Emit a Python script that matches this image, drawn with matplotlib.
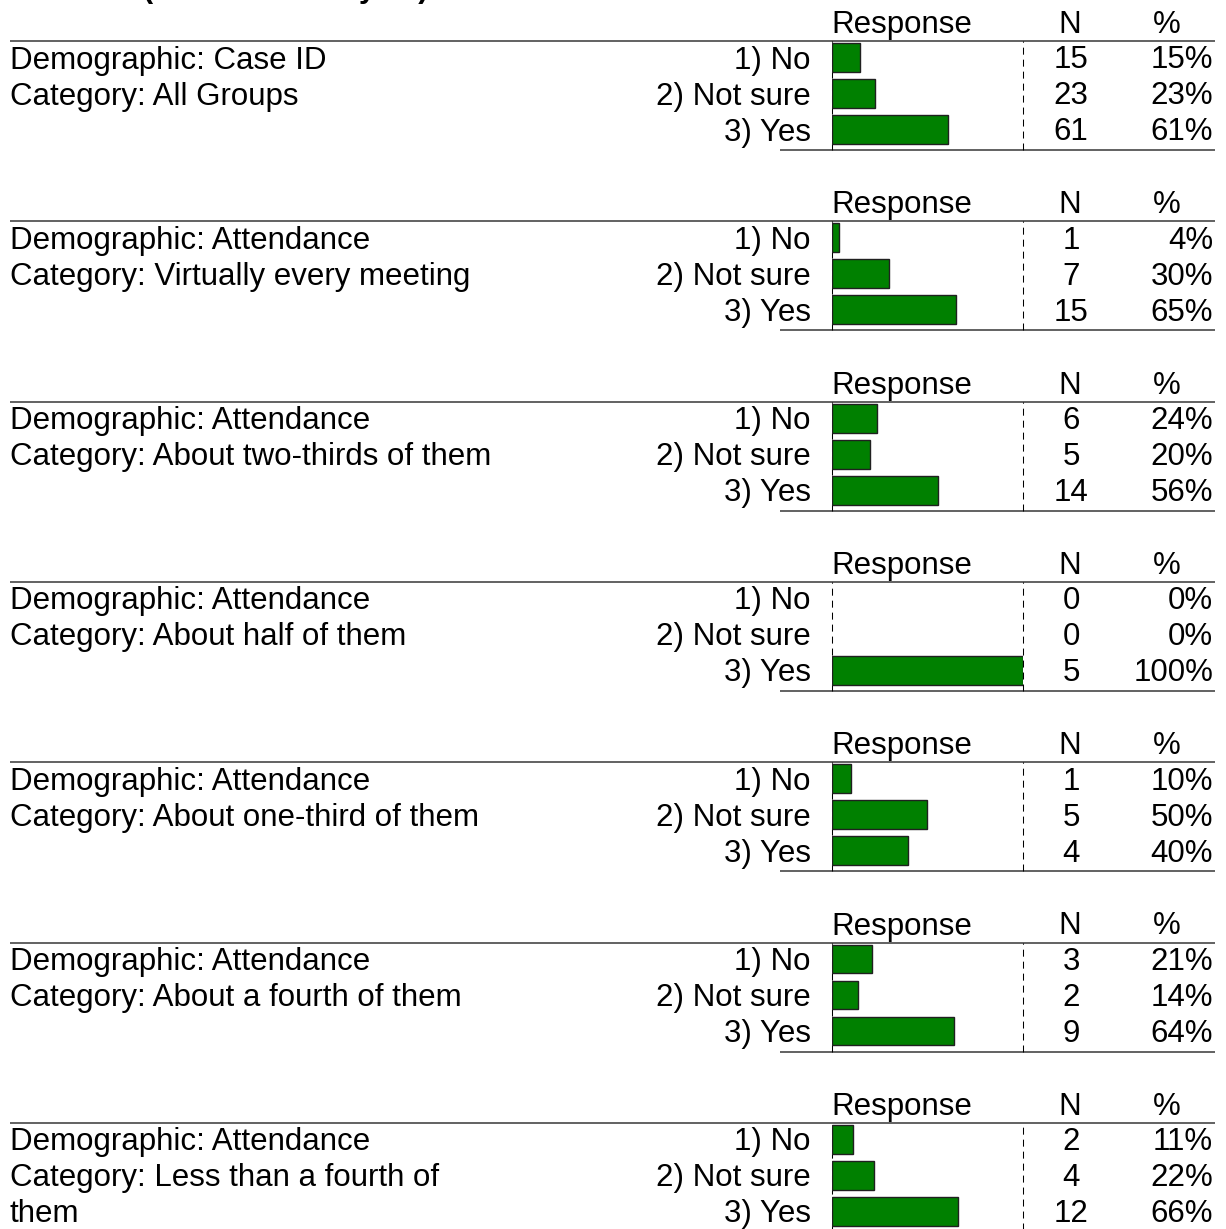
import textwrap
import matplotlib
matplotlib.use("Agg")
import matplotlib.pyplot as plt

# ---- data -------------------------------------------------------------
title = "(Crosstab Analysis)"
demographics = ["Case ID", "Attendance", "Attendance", "Attendance",
                "Attendance", "Attendance", "Attendance"]
categories = ["All Groups", "Virtually every meeting", "About two-thirds of them",
              "About half of them", "About one-third of them",
              "About a fourth of them", "Less than a fourth of them"]
responses = ["1) No", "2) Not sure", "3) Yes"]
counts = [[15, 23, 61], [1, 7, 15], [6, 5, 14], [0, 0, 5],
          [1, 5, 4], [3, 2, 9], [2, 4, 12]]
percents = [[15, 23, 61], [4, 30, 65], [24, 20, 56], [0, 0, 100],
            [10, 50, 40], [21, 14, 64], [11, 22, 66]]
col_headers = ["Response", "N", "%"]

# ---- layout (pixels) --------------------------------------------------
W, H = 1226, 1229
FONT = "Liberation Sans"
FS = 22.5
GREEN = "#008000"

fig = plt.figure(figsize=(W / 100, H / 100), dpi=100)
ax = fig.add_axes([0, 0, 1, 1])
ax.set_xlim(0, W)
ax.set_ylim(H, 0)
ax.axis("off")

# report title, mostly above the visible area
ax.text(143, -3, title, fontsize=22, fontweight="bold", family=FONT,
        ha="left", va="baseline")

panel_top0 = 41
panel_step = 180.3
row_h = 36
base_off = 27.5
bar_x0, bar_x1 = 831.5, 1022.5

for i, (dem, cat) in enumerate(zip(demographics, categories)):
    y0 = panel_top0 + i * panel_step

    # column headers
    ax.text(902, y0 - 8, col_headers[0], fontsize=FS, family=FONT,
            ha="center", va="baseline")
    ax.text(1070, y0 - 8, col_headers[1], fontsize=FS, family=FONT,
            ha="center", va="baseline")
    ax.text(1167, y0 - 8, col_headers[2], fontsize=FS, family=FONT,
            ha="center", va="baseline")

    # rules
    ax.plot([10, 1215], [y0, y0], color="#555555", lw=1.3,
            solid_capstyle="butt")
    ax.plot([780, 1215], [y0 + 109, y0 + 109], color="#555555", lw=1.3,
            solid_capstyle="butt")

    # left description, wrapped
    lines = [f"Demographic: {dem}"] + textwrap.wrap(f"Category: {cat}", 35)
    for k, line in enumerate(lines):
        ax.text(10, y0 + base_off + k * row_h, line, fontsize=FS, family=FONT,
                ha="left", va="baseline")

    # response labels, counts, percents
    for k, resp in enumerate(responses):
        yb = y0 + base_off + k * row_h
        ax.text(811, yb, resp, fontsize=FS, family=FONT,
                ha="right", va="baseline")
        ax.text(1071, yb, str(counts[i][k]), fontsize=FS, family=FONT,
                ha="center", va="baseline")
        ax.text(1213, yb, f"{percents[i][k]}%", fontsize=FS, family=FONT,
                ha="right", va="baseline")

    # bar area: its own axes on a 0-100 percent scale
    bax = fig.add_axes([bar_x0 / W, 1 - (y0 + 109) / H,
                        (bar_x1 - bar_x0) / W, 109 / H])
    bax.set_xlim(0, 100)
    top = -16.5 / row_h
    bax.set_ylim(top + 109 / row_h, top)
    bax.axis("off")
    for xv in (0, 100):
        bax.axvline(xv, color="black", lw=0.75, ls=(0, (6.7, 4.8)),
                    zorder=1, clip_on=False)
    edge_w = [1.0 if p > 0 else 0.0 for p in percents[i]]
    bax.barh(range(3), percents[i], height=0.8, color=GREEN,
             edgecolor="#202020", linewidth=edge_w, zorder=2)

fig.savefig("out.png", dpi=100)
